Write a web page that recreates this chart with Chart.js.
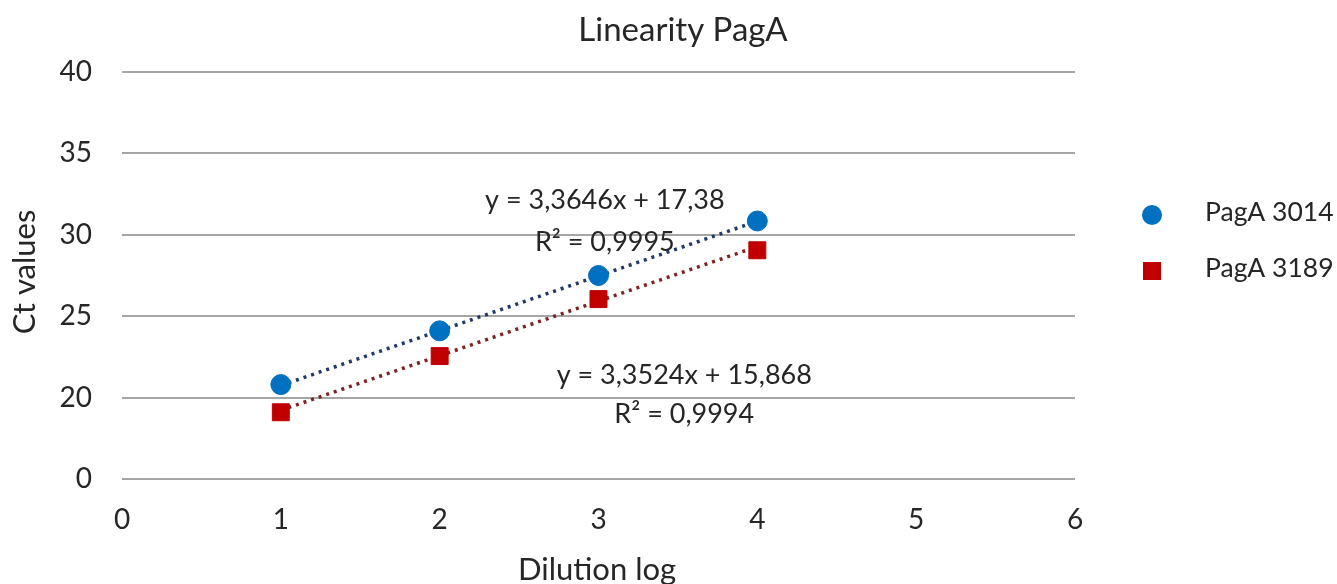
<!DOCTYPE html>
<html>
<head>
<meta charset="utf-8">
<script src="https://cdn.jsdelivr.net/npm/chart.js@4.4.1/dist/chart.umd.min.js"></script>
<style>
  html, body { margin: 0; padding: 0; background: #fff; }
  #wrap { width: 1337px; height: 584px; }
</style>
</head>
<body>
<div id="wrap"><canvas id="chart" width="1337" height="584"></canvas></div>
<script>
// Data
const dilutionLog = [1, 2, 3, 4];
const pagA3014 = [20.8, 24.1, 27.5, 30.85];
const pagA3189 = [19.1, 22.55, 26.05, 29.05];
const seriesNames = ['PagA 3014', 'PagA 3189'];

// Trend lines (as printed on the chart)
const slopes = [3.3646, 3.3524];
const intercepts = [17.38, 15.868];
const equationTexts = ['y = 3,3646x + 17,38', 'y = 3,3524x + 15,868'];
const r2Texts = ['R² = 0,9995', 'R² = 0,9994'];

// Axis ticks
const xTickValues = [0, 1, 2, 3, 4, 5, 6];
const yTickValues = [15, 20, 25, 30, 35, 40];
const yTickLabels = ['0', '20', '25', '30', '35', '40'];

const FONT = 'Lato, "Open Sans", sans-serif';
const TEXT = '#262626';

function trend(i) {
    const x0 = dilutionLog[0], x1 = dilutionLog[dilutionLog.length - 1];
    return [
        {x: x0, y: slopes[i] * x0 + intercepts[i]},
        {x: x1, y: slopes[i] * x1 + intercepts[i]}
    ];
}

// Title, axis titles, legend and equation labels
const decorPlugin = {
    id: 'decor',
    afterDraw(chart) {
        const ctx = chart.ctx;
        const xs = chart.scales.x, ys = chart.scales.y;
        ctx.save();
        ctx.fillStyle = TEXT;
        ctx.textBaseline = 'middle';
        ctx.textAlign = 'center';

        ctx.font = '33px ' + FONT;
        ctx.fillText('Linearity PagA', 683, 30);

        ctx.font = '31px ' + FONT;
        ctx.fillText('Dilution log', 597, 570);
        ctx.save();
        ctx.translate(25, 272);
        ctx.rotate(-Math.PI / 2);
        ctx.fillText('Ct values', 0, 0);
        ctx.restore();

        // equation labels, anchored to data coordinates
        const labelPos = [[3.04, 32.15, 29.55], [3.54, 21.4, 19.0]];
        ctx.font = '27px ' + FONT;
        for (let i = 0; i < 2; i++) {
            const px = xs.getPixelForValue(labelPos[i][0]);
            ctx.fillText(equationTexts[i], px, ys.getPixelForValue(labelPos[i][1]));
            ctx.fillText(r2Texts[i], px, ys.getPixelForValue(labelPos[i][2]));
        }

        // legend
        ctx.textAlign = 'left';
        ctx.font = '26.5px ' + FONT;
        chart.data.datasets.slice(0, 2).forEach((ds, i) => {
            const y = 215 + i * 56;
            ctx.fillStyle = ds.backgroundColor;
            if (ds.pointStyle === 'rect') {
                ctx.fillRect(1143, y - 9, 18, 18);
            } else {
                ctx.beginPath();
                ctx.arc(1152, y, 10, 0, Math.PI * 2);
                ctx.fill();
            }
            ctx.fillStyle = TEXT;
            ctx.fillText(ds.label, 1205, y - 3);
        });
        ctx.restore();
    }
};

new Chart(document.getElementById('chart'), {
    type: 'scatter',
    data: {
        datasets: [
            {
                label: seriesNames[0],
                data: dilutionLog.map((x, i) => ({x: x, y: pagA3014[i]})),
                backgroundColor: '#0070c0',
                borderColor: '#0070c0',
                pointStyle: 'circle',
                pointRadius: 10,
                pointHoverRadius: 10,
                order: 0
            },
            {
                label: seriesNames[1],
                data: dilutionLog.map((x, i) => ({x: x, y: pagA3189[i]})),
                backgroundColor: '#c00000',
                borderColor: '#c00000',
                pointStyle: 'rect',
                pointRadius: 12,
                pointHoverRadius: 12,
                order: 0
            },
            {
                type: 'line',
                label: 'trend 3014',
                data: trend(0),
                borderColor: '#203864',
                borderWidth: 3.5,
                borderDash: [3, 5],
                pointRadius: 0,
                fill: false,
                order: 1
            },
            {
                type: 'line',
                label: 'trend 3189',
                data: trend(1),
                borderColor: '#7b2323',
                borderWidth: 3.5,
                borderDash: [3, 5],
                pointRadius: 0,
                fill: false,
                order: 1
            }
        ]
    },
    options: {
        responsive: false,
        animation: false,
        layout: {
            padding: {left: 0, right: 262, top: 72, bottom: 45}
        },
        plugins: {
            legend: {display: false},
            title: {display: false},
            tooltip: {enabled: false}
        },
        scales: {
            x: {
                type: 'linear',
                min: 0,
                max: 6,
                afterBuildTicks: scale => {
                    scale.ticks = xTickValues.map(v => ({value: v}));
                },
                afterFit: scale => { scale.height = 60; },
                grid: {display: false, drawTicks: false},
                border: {display: false},
                ticks: {
                    padding: 24,
                    color: TEXT,
                    font: {family: FONT, size: 28}
                }
            },
            y: {
                type: 'linear',
                min: 15,
                max: 40,
                afterBuildTicks: scale => {
                    scale.ticks = yTickValues.map(v => ({value: v}));
                },
                afterFit: scale => { scale.width = 122; },
                grid: {color: '#a6a6a6', lineWidth: 2, drawTicks: false},
                border: {display: false},
                ticks: {
                    padding: 30,
                    color: TEXT,
                    font: {family: FONT, size: 28},
                    callback: value => yTickLabels[yTickValues.indexOf(value)]
                }
            }
        }
    },
    plugins: [decorPlugin]
});
</script>
</body>
</html>
